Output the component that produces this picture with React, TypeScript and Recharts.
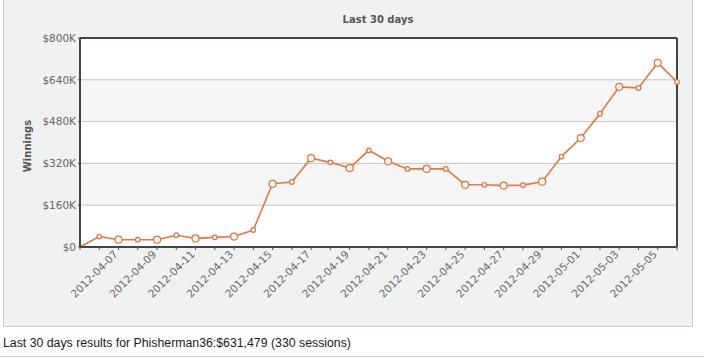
import { LineChart, Line, XAxis, YAxis, CartesianGrid, ReferenceLine } from 'recharts';

const dates = [
  '2012-04-05', '2012-04-06', '2012-04-07', '2012-04-08', '2012-04-09', '2012-04-10',
  '2012-04-11', '2012-04-12', '2012-04-13', '2012-04-14', '2012-04-15', '2012-04-16',
  '2012-04-17', '2012-04-18', '2012-04-19', '2012-04-20', '2012-04-21', '2012-04-22',
  '2012-04-23', '2012-04-24', '2012-04-25', '2012-04-26', '2012-04-27', '2012-04-28',
  '2012-04-29', '2012-04-30', '2012-05-01', '2012-05-02', '2012-05-03', '2012-05-04',
  '2012-05-05', '2012-05-06',
];

const winnings = [
  0, 40000, 28000, 28000, 28000, 45000, 33000, 37000, 40000, 65000, 242000, 249000,
  340000, 324000, 302000, 370000, 328000, 299000, 299000, 299000, 238000, 238000,
  235000, 237000, 250000, 346000, 417000, 510000, 613000, 609000, 705000, 631479,
];

const tickLabels = [
  '2012-04-07', '2012-04-09', '2012-04-11', '2012-04-13', '2012-04-15', '2012-04-17',
  '2012-04-19', '2012-04-21', '2012-04-23', '2012-04-25', '2012-04-27', '2012-04-29',
  '2012-05-01', '2012-05-03', '2012-05-05',
];

const yTicks = [0, 160000, 320000, 480000, 640000, 800000];

const data = dates.map((date, i) => ({ date, total: winnings[i] }));

const font = '"DejaVu Sans", Verdana, sans-serif';

const money = (v: number) => (v === 0 ? '$0' : `$${v / 1000}K`);

const XTick = ({ x, y, payload }: any) => {
  if (!tickLabels.includes(payload.value)) return null;
  const tx = x;
  const ty = y + 3;
  return (
    <text
      x={tx}
      y={ty}
      transform={`rotate(-45, ${tx}, ${ty})`}
      textAnchor='end'
      fontFamily={font}
      fontSize={10.5}
      fill='#6a6a6a'
    >
      {payload.value}
    </text>
  );
};

const Dot = ({ cx, cy, index }: any) => {
  if (index === 0) return null;
  const r = index % 2 === 0 ? 3.5 : 2.3;
  return <circle key={index} cx={cx} cy={cy} r={r} fill='#fffaf0' stroke='#e0743a' strokeWidth={1.2} />;
};

export default function App() {
  return (
    <div style={{ position: 'absolute', left: 0, top: 0, width: 704, height: 358, background: '#fff' }}>
      <div
        style={{
          position: 'absolute',
          left: 3,
          top: -1,
          width: 688,
          height: 326,
          background: '#f0f1f1',
          border: '1px solid #c8c8c8',
        }}
      />
      <div
        style={{
          position: 'absolute',
          left: 278,
          width: 200,
          top: 14,
          textAlign: 'center',
          fontFamily: font,
          fontWeight: 'bold',
          fontSize: 10,
          color: '#555',
        }}
      >
        Last 30 days
      </div>
      <div
        style={{
          position: 'absolute',
          left: 27,
          top: 146,
          transform: 'translate(-50%, -50%) rotate(-90deg)',
          fontFamily: font,
          fontWeight: 'bold',
          fontSize: 10,
          color: '#555',
          whiteSpace: 'nowrap',
        }}
      >
        Winnings
      </div>
      <div style={{ position: 'absolute', left: 0, top: 0 }}>
        <LineChart width={704} height={326} data={data} margin={{ top: 38, right: 27, left: 0, bottom: 0 }}>
          <CartesianGrid
            vertical={false}
            stroke='#c4c4c4'
            fill='#fff'
            horizontalFill={['#ffffff', '#f6f6f6']}
            fillOpacity={1}
          />
          <XAxis
            dataKey='date'
            interval={0}
            height={79}
            tick={<XTick />}
            tickSize={3}
            tickLine={{ stroke: '#555' }}
            axisLine={{ stroke: '#444', strokeWidth: 2 }}
          />
          <YAxis
            domain={[0, 800000]}
            ticks={yTicks}
            width={80}
            tickFormatter={money}
            tickSize={2}
            tickMargin={2}
            tick={{ fontFamily: font, fontSize: 10.5, fill: '#666' }}
            tickLine={{ stroke: '#555' }}
            axisLine={{ stroke: '#444', strokeWidth: 2 }}
          />
          <ReferenceLine y={800000} stroke='#444' strokeWidth={2} />
          <ReferenceLine x='2012-05-06' stroke='#444' strokeWidth={2} />
          <Line
            type='linear'
            dataKey='total'
            stroke='#e8773d'
            strokeWidth={1.6}
            dot={<Dot />}
            activeDot={false}
            isAnimationActive={false}
          />
        </LineChart>
      </div>
      <div
        style={{
          position: 'absolute',
          left: 3,
          top: 336,
          fontFamily: '"Liberation Sans", Arial, sans-serif',
          fontSize: 12.3,
          color: '#1a1a1a',
        }}
      >
        Last 30 days results for Phisherman36:$631,479 (330 sessions)
      </div>
      <div style={{ position: 'absolute', left: 0, top: 356, width: 704, height: 1, background: '#c8c8c8' }} />
    </div>
  );
}
